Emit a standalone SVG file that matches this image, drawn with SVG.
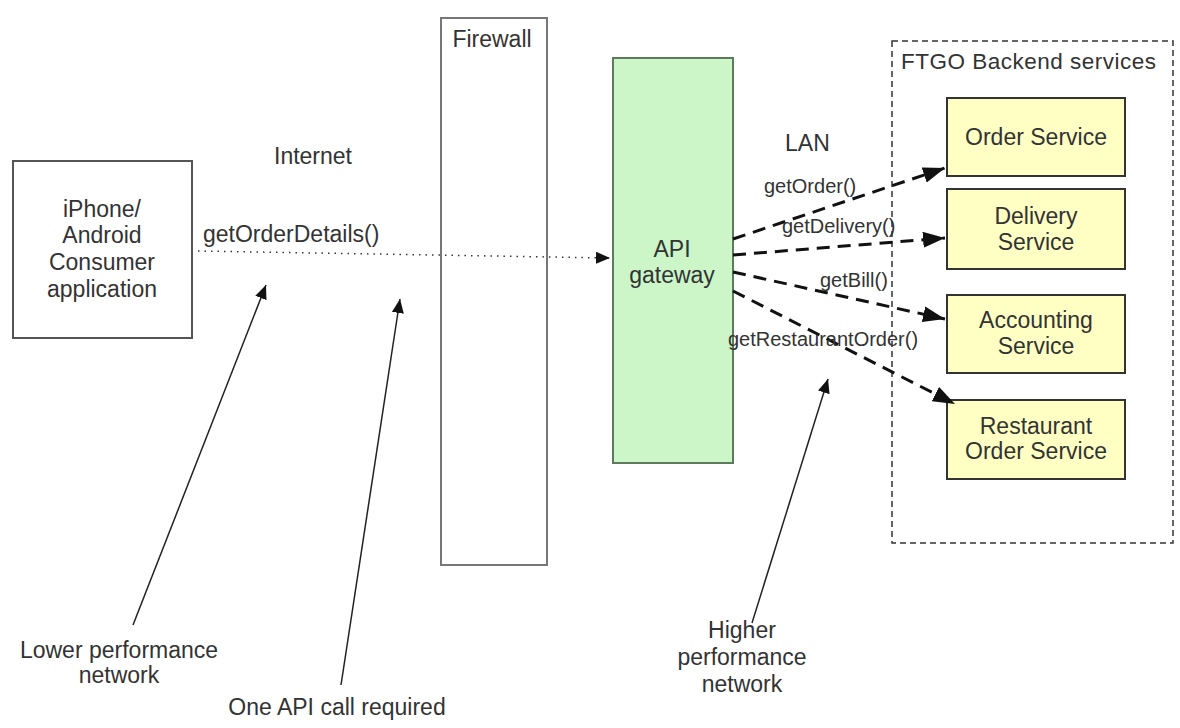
<svg xmlns="http://www.w3.org/2000/svg" width="1180" height="728" viewBox="0 0 1180 728">
<style>
text{font-family:"Liberation Sans",Arial,sans-serif;fill:#333;}
.n{font-size:23px;text-anchor:middle;}
.l{font-size:20px;}
.m{font-size:23px;}
.a{font-size:22.5px;}
.svc{fill:#ffffc4;stroke:#333;stroke-width:2;}
.dash{fill:none;stroke:#111;stroke-width:3;stroke-dasharray:13 8;}
.thin{fill:none;stroke:#222;stroke-width:1.5;}
.dot{fill:none;stroke:#333;stroke-width:1.5;stroke-dasharray:1.5 5;}
</style>
<defs>
<marker id="big" markerUnits="userSpaceOnUse" markerWidth="24" markerHeight="16" refX="22" refY="8" orient="auto"><path d="M0,0 L22,8 L0,16 Z" fill="#111"/></marker>
<marker id="sm" markerUnits="userSpaceOnUse" markerWidth="16" markerHeight="12" refX="14" refY="6" orient="auto"><path d="M0,0 L14,6 L0,12 Z" fill="#111"/></marker>
</defs>
<rect width="1180" height="728" fill="#fff"/>

<g id="backend">
<rect x="892" y="41" width="281" height="502" fill="none" stroke="#333" stroke-width="1.5" stroke-dasharray="6 4"/>
<text class="a" x="901" y="69" textLength="255">FTGO Backend services</text>
</g>
<g id="iphone">
<rect x="13" y="161" width="179" height="177" fill="#fff" stroke="#555" stroke-width="2"/>
<text class="n" x="102" y="217">iPhone/</text>
<text class="n" x="102" y="243">Android</text>
<text class="n" x="102" y="270">Consumer</text>
<text class="n" x="102" y="297">application</text>
</g>
<g id="firewall">
<rect x="441" y="18" width="106" height="547" fill="#fff" stroke="#777" stroke-width="2"/>
<text class="n" x="492" y="47">Firewall</text>
</g>
<g id="gateway">
<rect x="613" y="58" width="120" height="405" fill="#ccf5c8" stroke="#5c7a5c" stroke-width="2"/>
<text class="n" x="672" y="257">API</text>
<text class="n" x="672" y="283">gateway</text>
</g>
<g id="order">
<rect class="svc" x="947" y="98" width="178" height="78"/>
<text class="n" x="1036" y="145">Order Service</text>
</g>
<g id="delivery">
<rect class="svc" x="947" y="189" width="178" height="80"/>
<text class="n" x="1036" y="224">Delivery</text>
<text class="n" x="1036" y="250">Service</text>
</g>
<g id="accounting">
<rect class="svc" x="947" y="295" width="178" height="78"/>
<text class="n" x="1036" y="328">Accounting</text>
<text class="n" x="1036" y="354">Service</text>
</g>
<g id="restaurant">
<rect class="svc" x="947" y="400" width="178" height="79"/>
<text class="n" x="1036" y="434">Restaurant</text>
<text class="n" x="1036" y="459">Order Service</text>
</g>

<g id="connectors">
<line class="dot" x1="198" y1="251" x2="610" y2="258" marker-end="url(#sm)"/>
<line class="dash" x1="733" y1="239" x2="945" y2="168" marker-end="url(#big)"/>
<line class="dash" x1="733" y1="255" x2="945" y2="238" marker-end="url(#big)"/>
<line class="dash" x1="733" y1="272" x2="945" y2="319" marker-end="url(#big)"/>
<line class="dash" x1="733" y1="291" x2="955" y2="404" marker-end="url(#big)"/>
<line class="thin" x1="133" y1="625" x2="266" y2="285" marker-end="url(#sm)"/>
<line class="thin" x1="341" y1="685" x2="400" y2="299" marker-end="url(#sm)"/>
<line class="thin" x1="752" y1="623" x2="828" y2="379" marker-end="url(#sm)"/>
</g>

<g id="labels">
<text class="n" x="313" y="164">Internet</text>
<text class="m" x="203" y="242">getOrderDetails()</text>
<text class="m" x="785" y="151">LAN</text>
<text class="l" x="764" y="193">getOrder()</text>
<text class="l" x="782" y="233">getDelivery()</text>
<text class="l" x="820" y="287">getBill()</text>
<text class="l" x="728" y="346">getRestaurantOrder()</text>
<text class="n" x="119" y="658">Lower performance</text>
<text class="n" x="119" y="683">network</text>
<text class="n" x="337" y="715">One API call required</text>
<text class="n" x="742" y="638">Higher</text>
<text class="n" x="742" y="665">performance</text>
<text class="n" x="742" y="692">network</text>
</g>
</svg>
